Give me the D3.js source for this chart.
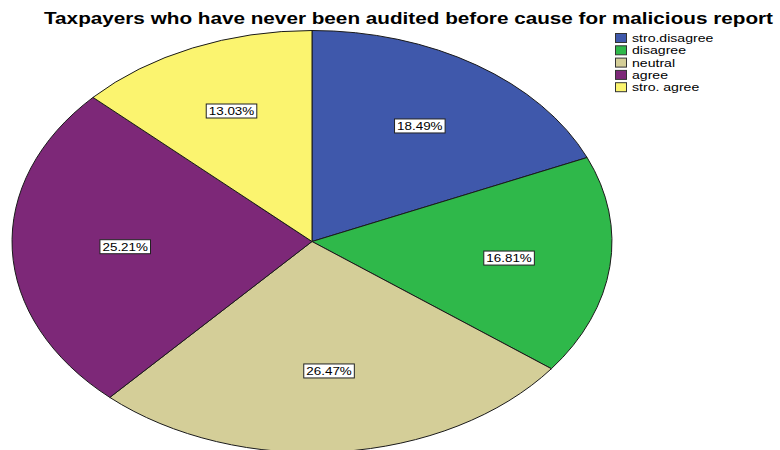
<!DOCTYPE html>
<html>
<head>
<meta charset="utf-8">
<script src="https://cdn.jsdelivr.net/npm/d3@7"></script>
<style>
  html, body { margin: 0; padding: 0; background: #fff; }
  svg { display: block; font-family: Arial, "Liberation Sans", sans-serif; }
</style>
</head>
<body>
<svg id="chart" width="780" height="450"></svg>
<script>
// Survey responses, share of respondents (%)
const categories = ["stro.disagree", "disagree", "neutral", "agree", "stro. agree"];
const shares = [18.49, 16.81, 26.47, 25.21, 13.03];
const colors = ["#3f58ab", "#2fb84a", "#d4ce98", "#7d2878", "#fbf46f"];
const title = "Taxpayers who have never been audited before cause for malicious report";

const svg = d3.select("#chart");
const cx = 312, cy = 241.5, rx = 300, ry = 211;
const wide = 1.22; // horizontal stretch applied to the small text

const data = categories.map((c, i) => ({ category: c, value: shares[i], color: colors[i] }));

const pie = d3.pie().value(d => d.value).sort(null);
const arcs = pie(data);

// Unit-circle arcs, stretched into an ellipse
const arc = d3.arc().innerRadius(0).outerRadius(1);
const pieG = svg.append("g")
  .attr("transform", `translate(${cx},${cy}) scale(${rx},${ry})`);

pieG.selectAll("path")
  .data(arcs)
  .join("path")
  .attr("d", arc)
  .attr("fill", d => d.data.color)
  .attr("stroke", "#1a1a1a")
  .attr("stroke-width", 1)
  .attr("vector-effect", "non-scaling-stroke");

// Percentage labels in white boxes, placed near each slice's centroid
const labels = svg.append("g");
arcs.forEach(a => {
  const half = (a.endAngle - a.startAngle) / 2;
  const r = 1.04 * 2 * Math.sin(half) / (3 * half);
  const mid = (a.startAngle + a.endAngle) / 2;
  const x = cx + Math.sin(mid) * r * rx;
  const y = cy - Math.cos(mid) * r * ry;
  const g = labels.append("g").attr("transform", `translate(${x},${y})`);
  const tg = g.append("g").attr("transform", `scale(${wide},1)`);
  const txt = tg.append("text")
    .attr("text-anchor", "middle")
    .attr("dy", "0.36em")
    .attr("font-size", 11)
    .attr("fill", "#000")
    .text(d3.format(".2f")(a.data.value) + "%");
  const w = txt.node().getBBox().width * wide;
  g.insert("rect", "g")
    .attr("x", -w / 2 - 2.5).attr("y", -7)
    .attr("width", w + 5).attr("height", 14)
    .attr("fill", "#fff")
    .attr("stroke", "#222")
    .attr("stroke-width", 1);
});

// Title
svg.append("text")
  .attr("x", 408.5).attr("y", 24)
  .attr("text-anchor", "middle")
  .attr("font-size", 16.5)
  .attr("font-weight", "bold")
  .attr("fill", "#000")
  .attr("textLength", 729)
  .attr("lengthAdjust", "spacingAndGlyphs")
  .text(title);

// Legend
const legend = svg.append("g").attr("transform", "translate(615,33)");
const rows = legend.selectAll("g")
  .data(data)
  .join("g")
  .attr("transform", (d, i) => `translate(0,${i * 12.3})`);
rows.append("rect")
  .attr("x", 0.5).attr("y", 0.5)
  .attr("width", 11).attr("height", 9)
  .attr("fill", d => d.color)
  .attr("stroke", "#333")
  .attr("stroke-width", 1);
rows.append("text")
  .attr("transform", `translate(17,5) scale(${wide + 0.06},1)`)
  .attr("dy", "0.36em")
  .attr("font-size", 11)
  .attr("fill", "#000")
  .text(d => d.category);
</script>
</body>
</html>
